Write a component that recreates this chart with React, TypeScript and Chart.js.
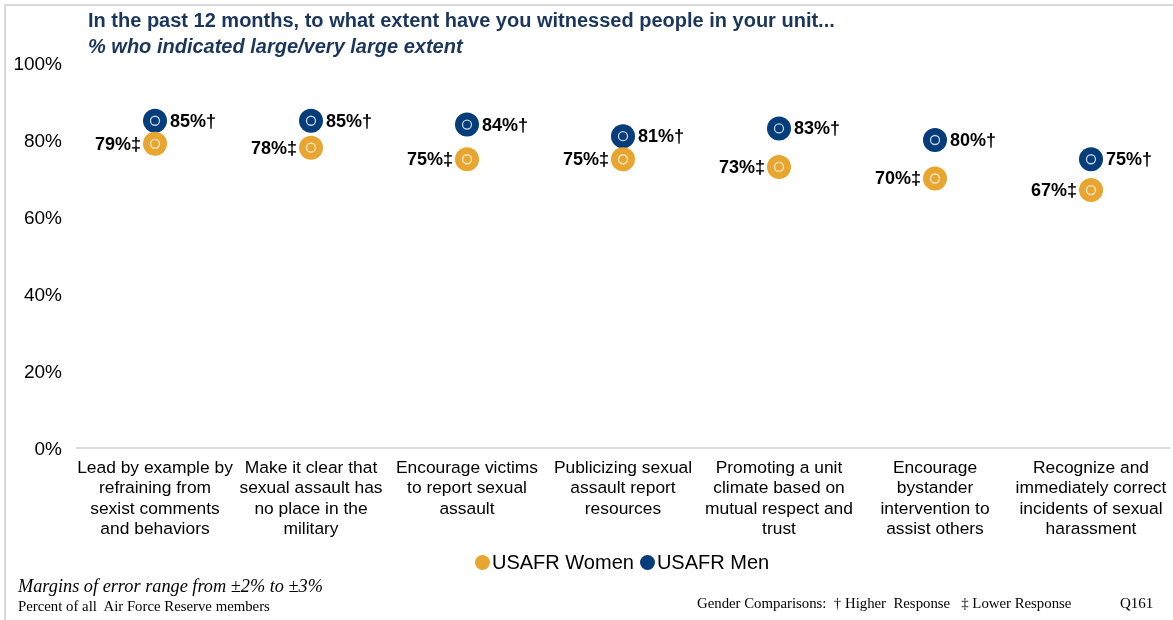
import React, { useEffect, useRef } from "react";
import { Chart, registerables } from "chart.js";

Chart.register(...registerables);

const categories: string[][] = [
  ["Lead by example by", "refraining from", "sexist comments", "and behaviors"],
  ["Make it clear that", "sexual assault has", "no place in the", "military"],
  ["Encourage victims", "to report sexual", "assault"],
  ["Publicizing sexual", "assault report", "resources"],
  ["Promoting a unit", "climate based on", "mutual respect and", "trust"],
  ["Encourage", "bystander", "intervention to", "assist others"],
  ["Recognize and", "immediately correct", "incidents of sexual", "harassment"],
];

const womenValues = [79, 78, 75, 75, 73, 70, 67];
const menValues = [85, 85, 84, 81, 83, 80, 75];
const womenMarks = ["‡", "‡", "‡", "‡", "‡", "‡", "‡"];
const menMarks = ["†", "†", "†", "†", "†", "†", "†"];
const seriesNames = ["USAFR Women", "USAFR Men"];

const WOMEN_COLOR = "#E8A630";
const MEN_COLOR = "#053C7A";
const SANS = "'Liberation Sans', Arial, sans-serif";
const SERIF = "'Liberation Serif', 'Times New Roman', serif";

const pointDecor = {
  id: "pointDecor",
  afterDatasetsDraw(chart: any) {
    const ctx = chart.ctx as CanvasRenderingContext2D;
    ctx.save();
    chart.data.datasets.forEach((_ds: any, di: number) => {
      const meta = chart.getDatasetMeta(di);
      meta.data.forEach((pt: any) => {
        ctx.beginPath();
        ctx.arc(pt.x, pt.y, 4.5, 0, Math.PI * 2);
        ctx.strokeStyle = "rgba(255,255,255,0.78)";
        ctx.lineWidth = 1.3;
        ctx.stroke();
      });
    });
    ctx.font = `bold 18px ${SANS}`;
    ctx.fillStyle = "#000";
    ctx.textBaseline = "middle";
    const wMeta = chart.getDatasetMeta(0);
    wMeta.data.forEach((pt: any, i: number) => {
      ctx.textAlign = "right";
      ctx.fillText(`${womenValues[i]}%${womenMarks[i]}`, pt.x - 14, pt.y + 1);
    });
    const mMeta = chart.getDatasetMeta(1);
    mMeta.data.forEach((pt: any, i: number) => {
      ctx.textAlign = "left";
      ctx.fillText(`${menValues[i]}%${menMarks[i]}`, pt.x + 15, pt.y + 1);
    });
    ctx.restore();
  },
};

export default function App() {
  const canvasRef = useRef<HTMLCanvasElement | null>(null);

  useEffect(() => {
    if (!canvasRef.current) return;
    const chart = new Chart(canvasRef.current, {
      type: "line",
      data: {
        labels: categories,
        datasets: [
          {
            label: seriesNames[0],
            data: womenValues,
            showLine: false,
            pointRadius: 12,
            pointHoverRadius: 12,
            pointBorderWidth: 0,
            pointBackgroundColor: WOMEN_COLOR,
            backgroundColor: WOMEN_COLOR,
            borderColor: WOMEN_COLOR,
            clip: false,
          },
          {
            label: seriesNames[1],
            data: menValues,
            showLine: false,
            pointRadius: 12,
            pointHoverRadius: 12,
            pointBorderWidth: 0,
            pointBackgroundColor: MEN_COLOR,
            backgroundColor: MEN_COLOR,
            borderColor: MEN_COLOR,
            clip: false,
          },
        ],
      },
      options: {
        responsive: false,
        animation: false,
        devicePixelRatio: 1,
        layout: { autoPadding: false, padding: { top: 63, right: 4, left: 0, bottom: 0 } },
        plugins: {
          legend: { display: false },
          tooltip: { enabled: false },
          title: { display: false },
        },
        scales: {
          x: {
            type: "category",
            offset: true,
            grid: { display: false, drawTicks: false },
            border: { display: true, color: "#D9D9D9", width: 2 },
            ticks: {
              autoSkip: false,
              maxRotation: 0,
              minRotation: 0,
              padding: 10,
              color: "#000",
              font: { family: SANS, size: 17.4, lineHeight: 1.17 },
            },
            afterFit: (scale: any) => {
              scale.height = 172;
              scale.paddingLeft = 0;
              scale.paddingRight = 0;
            },
          },
          y: {
            min: 0,
            max: 100,
            grid: { display: false, drawTicks: false },
            border: { display: false },
            ticks: {
              stepSize: 20,
              padding: 15,
              labelOffset: 2,
              color: "#000",
              font: { family: SANS, size: 19 },
              callback: (v: any) => `${v}%`,
            },
            afterFit: (scale: any) => {
              scale.width = 77;
            },
          },
        },
      },
      plugins: [pointDecor],
    } as any);
    return () => chart.destroy();
  }, []);

  return (
    <div
      style={{
        position: "absolute",
        left: 0,
        top: 0,
        width: 1173,
        height: 620,
        background: "#fff",
        overflow: "hidden",
      }}
    >
      <canvas
        ref={canvasRef}
        width={1173}
        height={620}
        style={{ position: "absolute", left: 0, top: 0, width: 1173, height: 620 }}
      />
      <div style={{ position: "absolute", left: 4, top: 4, width: 1169, height: 2, background: "#D9D9D9" }} />
      <div style={{ position: "absolute", left: 4, top: 4, width: 2, height: 616, background: "#D9D9D9" }} />
      <div
        style={{
          position: "absolute",
          left: 88,
          top: 8,
          fontFamily: SANS,
          fontWeight: "bold",
          fontSize: 20,
          lineHeight: "24px",
          color: "#1B365D",
          whiteSpace: "pre",
        }}
      >
        In the past 12 months, to what extent have you witnessed people in your unit...
      </div>
      <div
        style={{
          position: "absolute",
          left: 88,
          top: 34,
          fontFamily: SANS,
          fontWeight: "bold",
          fontStyle: "italic",
          fontSize: 20,
          lineHeight: "24px",
          color: "#1B365D",
          whiteSpace: "pre",
        }}
      >
        % who indicated large/very large extent
      </div>
      <div
        style={{
          position: "absolute",
          left: 475,
          top: 550,
          height: 24,
          display: "flex",
          alignItems: "center",
          fontFamily: SANS,
          fontSize: 20,
          color: "#000",
          whiteSpace: "pre",
        }}
      >
        <span style={{ display: "inline-block", width: 15, height: 15, borderRadius: "50%", background: WOMEN_COLOR, marginRight: 2 }} />
        <span>{seriesNames[0]}</span>
        <span style={{ display: "inline-block", width: 15, height: 15, borderRadius: "50%", background: MEN_COLOR, marginLeft: 6, marginRight: 2 }} />
        <span>{seriesNames[1]}</span>
      </div>
      <div
        style={{
          position: "absolute",
          left: 18,
          top: 575,
          fontFamily: SERIF,
          fontStyle: "italic",
          fontSize: 18.3,
          lineHeight: "22px",
          color: "#000",
          whiteSpace: "pre",
        }}
      >
        Margins of error range from ±2% to ±3%
      </div>
      <div
        style={{
          position: "absolute",
          left: 18,
          top: 597,
          fontFamily: SERIF,
          fontSize: 14.8,
          lineHeight: "18px",
          color: "#000",
          whiteSpace: "pre",
        }}
      >
        Percent of all  Air Force Reserve members
      </div>
      <div
        style={{
          position: "absolute",
          left: 697,
          top: 594,
          fontFamily: SERIF,
          fontSize: 14.8,
          lineHeight: "18px",
          color: "#000",
          whiteSpace: "pre",
        }}
      >
        Gender Comparisons:  † Higher  Response   ‡ Lower Response
      </div>
      <div
        style={{
          position: "absolute",
          left: 1120,
          top: 594,
          fontFamily: SERIF,
          fontSize: 15,
          lineHeight: "18px",
          color: "#000",
          whiteSpace: "pre",
        }}
      >
        Q161
      </div>
    </div>
  );
}
